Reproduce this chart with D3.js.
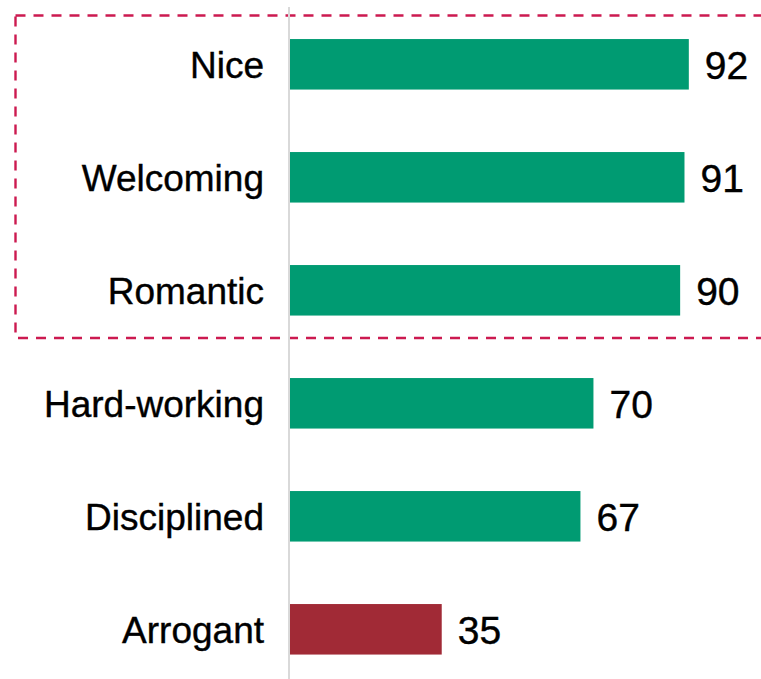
<!DOCTYPE html>
<html>
<head>
<meta charset="utf-8">
<script src="https://cdn.jsdelivr.net/npm/d3@7"></script>
<style>
  html, body { margin: 0; padding: 0; background: #fff; }
  svg { display: block; }
</style>
</head>
<body>
<svg id="chart" width="761" height="679"></svg>
<script>
const categories = ["Nice", "Welcoming", "Romantic", "Hard-working", "Disciplined", "Arrogant"];
const values = [92, 91, 90, 70, 67, 35];
const barColors = ["#009b72", "#009b72", "#009b72", "#009b72", "#009b72", "#a12a36"];
const highlighted = ["Nice", "Welcoming", "Romantic"];

const svg = d3.select("#chart");
const width = +svg.attr("width");
const height = +svg.attr("height");

const x0 = 290;
const x = d3.scaleLinear().domain([0, 100]).range([x0, x0 + 433.5]);
const y = d3.scaleBand()
  .domain(categories)
  .range([7.8, 7.8 + 113 * categories.length])
  .paddingInner(0.553)
  .paddingOuter(0.2765);

// highlight box around the top three
const firstHi = highlighted[0], lastHi = highlighted[highlighted.length - 1];
const boxTop = y(firstHi) - 23.5;
const boxBottom = y(lastHi) + y.bandwidth() + 22.5;
svg.append("rect")
  .attr("x", 15.5)
  .attr("y", boxTop)
  .attr("width", width + 20)
  .attr("height", boxBottom - boxTop)
  .attr("fill", "none")
  .attr("stroke", "#cc1a50")
  .attr("stroke-width", 2.4)
  .attr("stroke-dasharray", "10,8");

// vertical baseline
svg.append("line")
  .attr("x1", x(0) - 1).attr("x2", x(0) - 1)
  .attr("y1", 7).attr("y2", height)
  .attr("stroke", "#d9d9d9")
  .attr("stroke-width", 2);

const g = svg.append("g");

g.selectAll("rect.bar")
  .data(values)
  .join("rect")
  .attr("class", "bar")
  .attr("x", x(0))
  .attr("y", (d, i) => y(categories[i]))
  .attr("width", d => x(d) - x(0))
  .attr("height", y.bandwidth())
  .attr("fill", (d, i) => barColors[i]);

g.selectAll("text.cat")
  .data(categories)
  .join("text")
  .attr("class", "cat")
  .attr("x", 264)
  .attr("y", d => y(d) + y.bandwidth() / 2 + 13.5)
  .attr("text-anchor", "end")
  .attr("font-family", "Liberation Sans, Arial, sans-serif")
  .attr("font-size", 37)
  .attr("fill", "#000")
  .attr("stroke", "#000")
  .attr("stroke-width", 0.4)
  .text(d => d);

g.selectAll("text.val")
  .data(values)
  .join("text")
  .attr("class", "val")
  .attr("x", d => x(d) + 16)
  .attr("y", (d, i) => y(categories[i]) + y.bandwidth() / 2 + 14.5)
  .attr("font-family", "Liberation Sans, Arial, sans-serif")
  .attr("font-size", 39)
  .attr("fill", "#000")
  .attr("stroke", "#000")
  .attr("stroke-width", 0.4)
  .text(d => d);
</script>
</body>
</html>
